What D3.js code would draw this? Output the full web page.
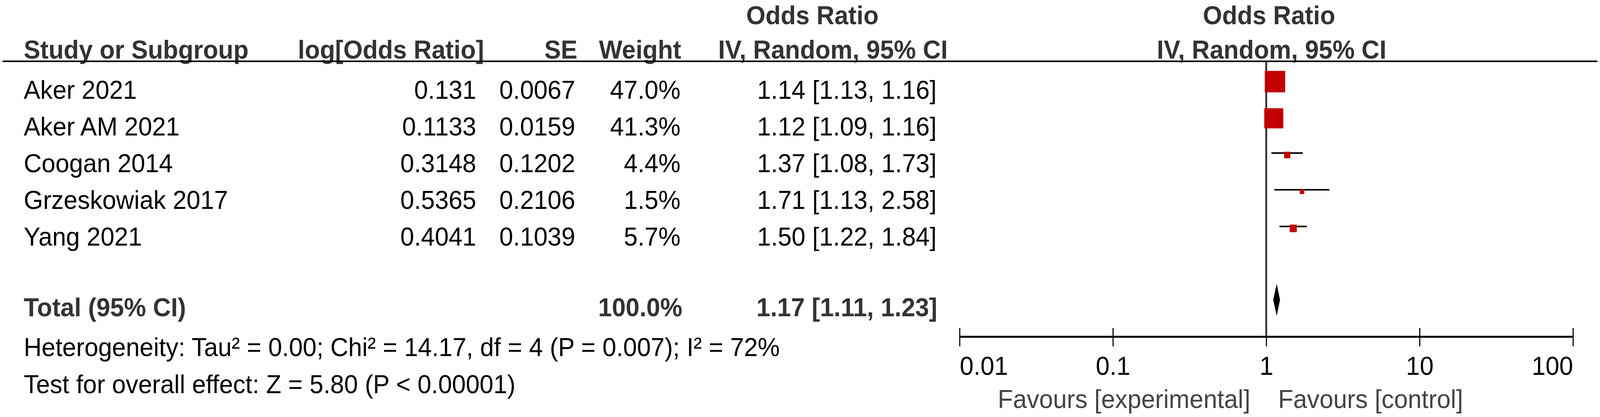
<!DOCTYPE html>
<html>
<head>
<meta charset="utf-8">
<script src="https://cdn.jsdelivr.net/npm/d3@7"></script>
<style>
  html, body { margin: 0; padding: 0; background: #fff; overflow: hidden; }
  svg { display: block; }
  text { font-family: "Liberation Sans", Arial, sans-serif; }
</style>
</head>
<body>
<div id="my_dataviz"></div>
<script>
// study table
const studies = ["Aker 2021", "Aker AM 2021", "Coogan 2014", "Grzeskowiak 2017", "Yang 2021"];
const logOR = [0.131, 0.1133, 0.3148, 0.5365, 0.4041];
const se = [0.0067, 0.0159, 0.1202, 0.2106, 0.1039];
const weights = [47.0, 41.3, 4.4, 1.5, 5.7];
const oddsRatio = [1.14, 1.12, 1.37, 1.71, 1.50];
const ciLow = [1.13, 1.09, 1.08, 1.13, 1.22];
const ciHigh = [1.16, 1.16, 1.73, 2.58, 1.84];

// pooled estimate
const totalWeight = 100.0;
const totalOR = 1.17;
const totalLow = 1.11;
const totalHigh = 1.23;

const axisTicks = [0.01, 0.1, 1, 10, 100];
const heterogeneity = "Heterogeneity: Tau² = 0.00; Chi² = 14.17, df = 4 (P = 0.007); I² = 72%";
const overallEffect = "Test for overall effect: Z = 5.80 (P < 0.00001)";

const width = 4317, height = 1068;
const fs = 67;

const rows = studies.map((s, i) => ({
    name: s, logOR: logOR[i], se: se[i], w: weights[i],
    or: oddsRatio[i], lo: ciLow[i], hi: ciHigh[i]
}));

// the drawing fills the window whatever its real size
const svg = d3.select("#my_dataviz")
    .append("svg")
    .attr("viewBox", `0 0 ${width} ${height}`)
    .attr("preserveAspectRatio", "none")
    .style("width", "100vw")
    .style("height", "100vh");

// scales
const x = d3.scaleLog()
    .domain([0.01, 100])
    .range([2589, 4244]);

const y = d3.scaleLinear()
    .domain([0, studies.length - 1])
    .range([204, 580]);

const boxSize = d3.scaleSqrt()
    .domain([0, 47])
    .range([0, 55]);

const fmt2 = d3.format(".2f");
const ciText = (o, l, h) => `${fmt2(o)} [${fmt2(l)}, ${fmt2(h)}]`;

// header texts
const head = svg.append("g")
    .style("font-weight", "bold")
    .style("font-size", fs + "px")
    .attr("fill", "#333");

head.append("text").attr("x", 2192).attr("y", 62).attr("text-anchor", "middle").text("Odds Ratio");
head.append("text").attr("x", 3424).attr("y", 62).attr("text-anchor", "middle").text("Odds Ratio");
head.append("text").attr("x", 64).attr("y", 150).text("Study or Subgroup");
head.append("text").attr("x", 1306).attr("y", 150).attr("text-anchor", "end").text("log[Odds Ratio]");
head.append("text").attr("x", 1558).attr("y", 150).attr("text-anchor", "end").text("SE");
head.append("text").attr("x", 1838).attr("y", 150).attr("text-anchor", "end").text("Weight");
head.append("text").attr("x", 2557).attr("y", 150).attr("text-anchor", "end").text("IV, Random, 95% CI");
head.append("text").attr("x", 3431).attr("y", 150).attr("text-anchor", "middle").text("IV, Random, 95% CI");

// header rule
svg.append("line")
    .attr("x1", 7).attr("x2", 4310)
    .attr("y1", 157).attr("y2", 157)
    .attr("stroke", "#000")
    .attr("stroke-width", 4);

// study rows text
const rowText = svg.append("g")
    .style("font-size", fs + "px")
    .attr("fill", "#000");

const rowG = rowText.selectAll("g")
    .data(rows)
    .join("g")
    .attr("transform", (d, i) => `translate(0,${y(i) + 49})`);

rowG.append("text").attr("x", 64).text(d => d.name);
rowG.append("text").attr("x", 1285).attr("text-anchor", "end").text(d => d.logOR);
rowG.append("text").attr("x", 1552).attr("text-anchor", "end").text(d => d.se);
rowG.append("text").attr("x", 1836).attr("text-anchor", "end").text(d => d.w.toFixed(1) + "%");
rowG.append("text").attr("x", 2527).attr("text-anchor", "end").text(d => ciText(d.or, d.lo, d.hi));

// total row
const totalY = 768;
const tot = svg.append("g")
    .style("font-weight", "bold")
    .style("font-size", fs + "px")
    .attr("fill", "#333");
tot.append("text").attr("x", 64).attr("y", 810).text("Total (95% CI)");
tot.append("text").attr("x", 1841).attr("y", 810).attr("text-anchor", "end").text(totalWeight.toFixed(1) + "%");
tot.append("text").attr("x", 2529).attr("y", 810).attr("text-anchor", "end").text(ciText(totalOR, totalLow, totalHigh));

svg.append("text").attr("x", 64).attr("y", 912)
    .style("font-size", fs + "px").attr("fill", "#000")
    .text(heterogeneity);
svg.append("text").attr("x", 64).attr("y", 1007)
    .style("font-size", fs + "px").attr("fill", "#000")
    .text(overallEffect);

// axis at the bottom of the plot
const axisY = 862;
const axis = svg.append("g")
    .attr("transform", `translate(0,${axisY})`)
    .call(d3.axisBottom(x).tickValues(axisTicks).tickFormat(d => String(d)).tickSizeOuter(0));

axis.select(".domain")
    .attr("stroke", "#000")
    .attr("stroke-width", 5);
axis.selectAll(".tick line")
    .attr("y1", -22).attr("y2", 25)
    .attr("stroke", "#000")
    .attr("stroke-width", 3);
axis.selectAll(".tick text")
    .attr("y", 98).attr("dy", 0)
    .attr("fill", "#000")
    .style("font-size", fs + "px")
    .style("font-family", "'Liberation Sans', Arial, sans-serif")
    .attr("text-anchor", (d, i) => i === 0 ? "start" : (i === axisTicks.length - 1 ? "end" : "middle"));

// line of no effect
svg.append("line")
    .attr("x1", x(1)).attr("x2", x(1))
    .attr("y1", 157).attr("y2", axisY)
    .attr("stroke", "#333")
    .attr("stroke-width", 5);

// confidence intervals
svg.append("g").selectAll("line")
    .data(rows)
    .join("line")
    .attr("x1", d => x(d.lo))
    .attr("x2", d => x(d.hi))
    .attr("y1", (d, i) => y(i))
    .attr("y2", (d, i) => y(i))
    .attr("stroke", "#000")
    .attr("stroke-width", 4);

// weight boxes
svg.append("g").selectAll("rect")
    .data(rows)
    .join("rect")
    .attr("x", d => x(d.or) - Math.max(12, boxSize(d.w)) / 2)
    .attr("y", (d, i) => y(i) + 5 - Math.max(12, boxSize(d.w)) / 2)
    .attr("width", d => Math.max(12, boxSize(d.w)))
    .attr("height", d => Math.max(12, boxSize(d.w)))
    .attr("fill", "#c00000");

// pooled diamond
svg.append("path")
    .attr("d", d3.line()([
        [x(totalLow), totalY],
        [x(totalOR), totalY - 41],
        [x(totalHigh), totalY],
        [x(totalOR), totalY + 41]
    ]) + "Z")
    .attr("fill", "#000");

// favours labels
svg.append("text").attr("x", x(1) - 43).attr("y", 1045)
    .attr("text-anchor", "end")
    .style("font-size", fs + "px").attr("fill", "#444")
    .text("Favours [experimental]");
svg.append("text").attr("x", x(1) + 32).attr("y", 1045)
    .style("font-size", fs + "px").attr("fill", "#444")
    .text("Favours [control]");
</script>
</body>
</html>
